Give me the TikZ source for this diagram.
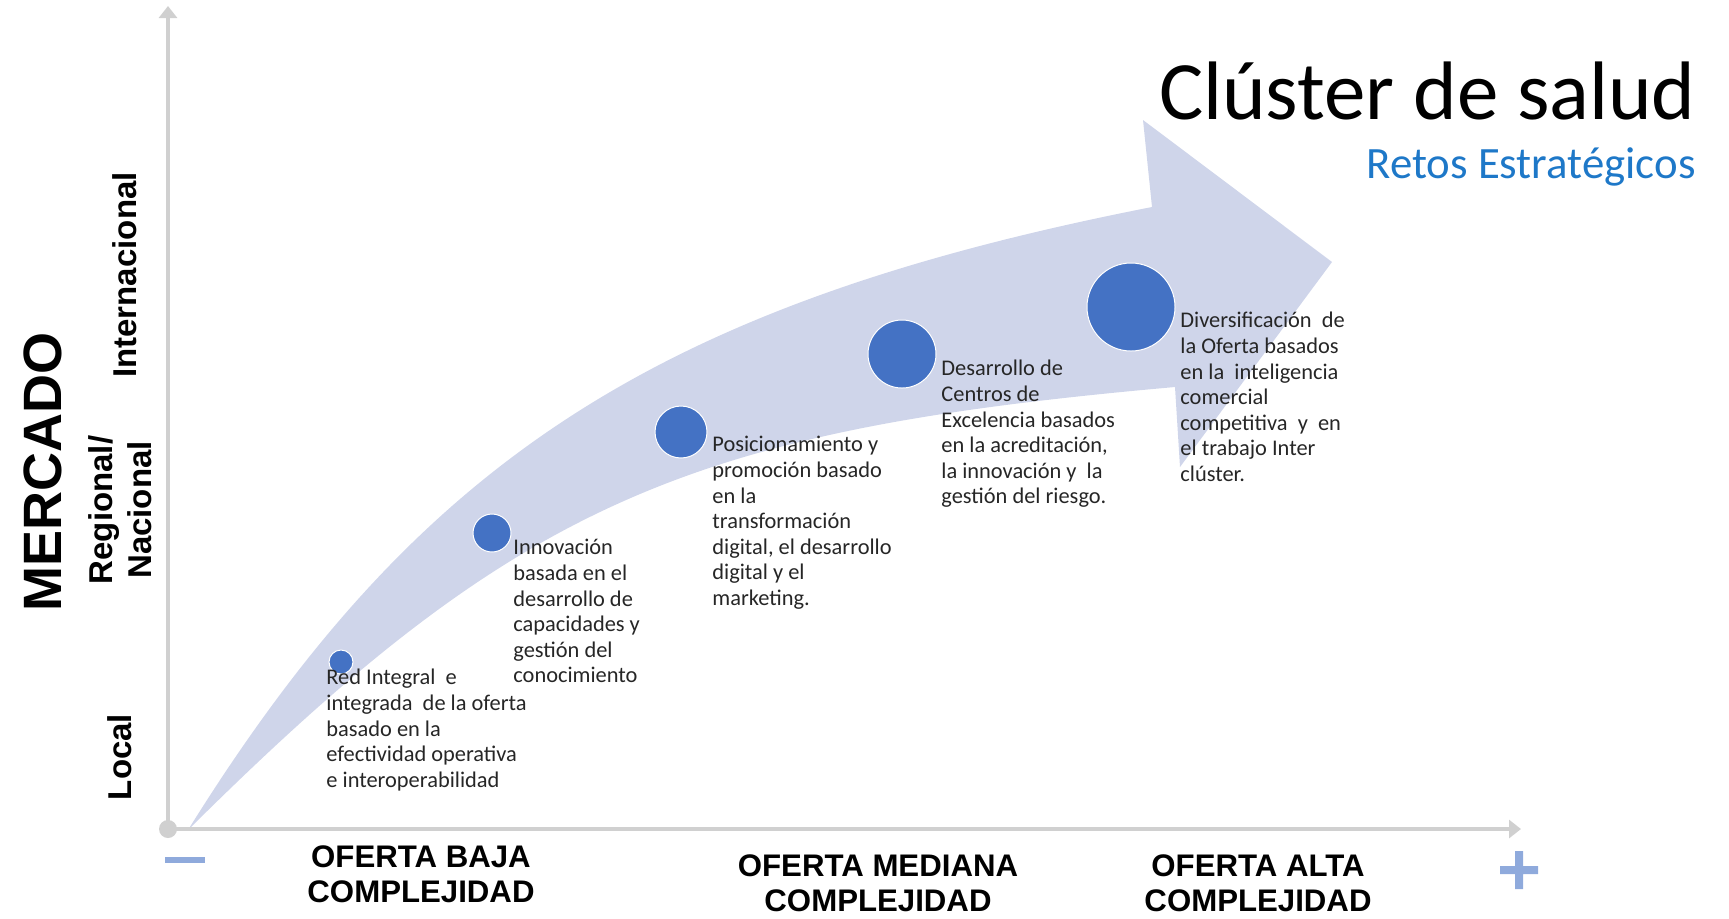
\documentclass[tikz,border=0pt]{standalone}
\usepackage{fontspec}
\setmainfont{Carlito}
\newfontfamily\axisfont{Liberation Sans}
\usetikzlibrary{arrows.meta, positioning}
\definecolor{bandfill}{RGB}{207,213,234}
\definecolor{dotblue}{RGB}{68,114,196}
\definecolor{axisgray}{RGB}{208,208,208}
\definecolor{signblue}{RGB}{143,170,220}
\definecolor{subblue}{RGB}{30,120,200}
\tikzset{
        axis/.style={draw=axisgray, line width=2pt, -{Triangle[width=9pt,length=6pt]}},
        dot/.style={circle, fill=dotblue, draw=white, line width=0.5pt, inner sep=0pt},
        reto/.style={align=left, inner sep=0pt, anchor=north west, text=black!85,
                font=\fontsize{11.2}{12.8}\selectfont},
        nivel/.style={rotate=90, align=center, inner sep=0pt,
                font=\axisfont\bfseries\fontsize{16.5}{19.5}\selectfont},
        oferta/.style={align=center, inner sep=0pt,
                font=\axisfont\bfseries\fontsize{15.6}{17.6}\selectfont}
        }

\begin{document}
\begin{tikzpicture}[x=0.5pt, y=-0.5pt]
        \useasboundingbox (0,0) rectangle (1729,918);

        % big curved arrow
        \coordinate (tail) at (188,830);
        \fill[bandfill] (tail) .. controls (416,464) and (652,305) .. (1152,207)
              -- (1143,120) -- (1332,262) -- (1180,467) -- (1175,387)
              .. controls (690,430) and (520,500) .. (tail) -- cycle;

        % axes
        \node[circle, fill=axisgray, minimum size=9pt, inner sep=0pt](O) at (168,829){};
        \coordinate (ytop) at (168,6);
        \coordinate (xend) at (1521,829);
        \draw[axis] (O.center) -- (ytop);
        \draw[axis] (O.center) -- (xend);
        \fill[signblue] (165,857) rectangle (205,863);
        \fill[signblue] (1500,866) rectangle (1538,874) (1515,851) rectangle (1523,889);

        \node[rotate=90, inner sep=0pt, font=\axisfont\bfseries\fontsize{27}{27}\selectfont](mercado) at (43,472){MERCADO};
        \node[nivel](inter) at (125,275){Internacional};
        \node[nivel](regio) at (120,510){Regional/\\Nacional};
        \node[nivel](local) at (120,757){Local};

        \node[oferta](baja) at (421,874){OFERTA BAJA\\COMPLEJIDAD};
        \node[oferta](media) at (878,883){OFERTA MEDIANA\\COMPLEJIDAD};
        \node[oferta](alta) at (1258,883){OFERTA ALTA\\COMPLEJIDAD};

        \node[anchor=base east, inner sep=0pt, font=\fontsize{41.5}{44}\selectfont](titulo) at (1696,119){Clúster de salud};
        \node[anchor=base east, inner sep=0pt, text=subblue, font=\fontsize{22.4}{26}\selectfont](sub) at (1696,178){Retos Estratégicos};

        % retos
        \node[dot, minimum size=12pt](d1) at (341,662){};
        \node[dot, minimum size=19pt](d2) at (492,533){};
        \node[dot, minimum size=26pt](d3) at (681,432){};
        \node[dot, minimum size=34pt](d4) at (902,354){};
        \node[dot, minimum size=44pt](d5) at (1131,307){};

        \node[reto](r1) at (326,669){Red Integral~ e\\integrada~ de la oferta\\basado en la\\efectividad operativa\\e interoperabilidad};
        \node[reto](r2) at (513,539){Innovación\\basada en el\\desarrollo de\\capacidades y\\gestión del\\conocimiento};
        \node[reto](r3) at (712,436){Posicionamiento y\\promoción basado\\en la\\transformación\\digital, el desarrollo\\digital y el\\marketing.};
        \node[reto](r4) at (941,360){Desarrollo de\\Centros de\\Excelencia basados\\en la acreditación,\\la innovación y~ la\\gestión del riesgo.};
        \node[reto](r5) at (1180,312){Diversificación~ de\\la Oferta basados\\en la~ inteligencia\\comercial\\competitiva~ y~ en\\el trabajo Inter\\clúster.};
\end{tikzpicture}
\end{document}
